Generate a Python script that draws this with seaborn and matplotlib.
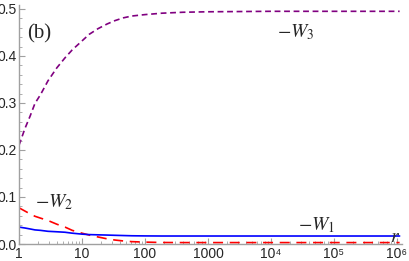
import matplotlib
matplotlib.use("Agg")
import matplotlib.pyplot as plt
from matplotlib.ticker import FixedLocator, LogLocator, NullFormatter, MultipleLocator
import seaborn as sns
import pandas as pd

# values
r_vals = [1, 1.245, 1.5, 1.79, 2.2, 2.88, 4, 5.37, 7, 10, 13, 17.9, 25, 33, 45, 62, 100, 186, 400, 1000, 1e4, 1e5, 1.1e6]
w3_vals = [0.21, 0.246, 0.272, 0.299, 0.318, 0.347, 0.375, 0.396, 0.413, 0.432, 0.446, 0.458, 0.468, 0.475, 0.481, 0.485, 0.488, 0.491, 0.493, 0.494, 0.495, 0.495, 0.495]
w2_vals = [0.077, 0.07, 0.064, 0.059, 0.055, 0.05, 0.042, 0.036, 0.029, 0.023, 0.019, 0.015, 0.011, 0.0085, 0.0065, 0.005, 0.004, 0.0032, 0.003, 0.003, 0.003, 0.003, 0.003]
w1_vals = [0.036, 0.034, 0.032, 0.03, 0.029, 0.027, 0.026, 0.025, 0.023, 0.021, 0.02, 0.0195, 0.019, 0.0185, 0.018, 0.0175, 0.0172, 0.017, 0.017, 0.017, 0.017, 0.017, 0.017]
x_ticks = [1, 10, 100, 1000, 1e4, 1e5, 1e6]
x_tick_labels = ["1", "10", "100", "1000", "10\u2074", "10\u2075", "10\u2076"]
y_ticks = [0.0, 0.1, 0.2, 0.3, 0.4, 0.5]

df = pd.DataFrame({"r": r_vals, "W1": w1_vals, "W2": w2_vals, "W3": w3_vals})

sns.set_style("ticks")
plt.rcParams["font.family"] = ["Liberation Sans", "DejaVu Sans"]
plt.rcParams["mathtext.fontset"] = "stix"

fig = plt.figure(figsize=(4.09, 2.61), dpi=100)
ax = fig.add_axes([19 / 409, 17 / 261, 383 / 409, 238.8 / 261])

sns.lineplot(data=df, x="r", y="W3", ax=ax, color="#800080", lw=1.2)
sns.lineplot(data=df, x="r", y="W2", ax=ax, color="#ff0000", lw=1.2)
sns.lineplot(data=df, x="r", y="W1", ax=ax, color="#0000ff", lw=1.2)
lines = ax.get_lines()
lines[0].set_dashes([3.5, 2.2])
lines[1].set_dashes([6, 4])

ax.set_xscale("log")
ax.set_xlim(1, 1.2e6)
ax.set_ylim(0, 0.508)

ax.xaxis.set_major_locator(FixedLocator(x_ticks))
ax.set_xticklabels(x_tick_labels)
ax.xaxis.set_minor_locator(LogLocator(base=10, subs=range(2, 10), numticks=20))
ax.xaxis.set_minor_formatter(NullFormatter())
ax.yaxis.set_major_locator(FixedLocator(y_ticks))
ax.set_yticklabels([f"{v:.1f}" for v in y_ticks])
ax.yaxis.set_minor_locator(MultipleLocator(0.02))

ax.set_xlabel("")
ax.set_ylabel("")
sns.despine(ax=ax)
for s in ("left", "bottom"):
    ax.spines[s].set_color("#a0a0a0")
    ax.spines[s].set_linewidth(1.0)
ax.tick_params(which="major", direction="in", length=4, width=0.8, color="#a0a0a0",
               labelsize=10, pad=1.5)
ax.tick_params(axis="x", which="major", pad=2.5)
ax.tick_params(which="minor", direction="in", length=2, width=0.6, color="#a0a0a0")

serif = ["Liberation Serif", "DejaVu Serif"]
ax.text(0.021, 0.86, "(b)", transform=ax.transAxes, fontsize=15, family=serif,
        va="baseline")
ax.text(0.674, 0.867, r"$-W_3$", transform=ax.transAxes, fontsize=14, va="baseline")
ax.text(0.042, 0.155, r"$-W_2$", transform=ax.transAxes, fontsize=14, va="baseline")
ax.text(0.728, 0.059, r"$-W_1$", transform=ax.transAxes, fontsize=14, va="baseline")
ax.text(0.969, 0.008, r"$r$", transform=ax.transAxes, fontsize=14, va="baseline")

fig.savefig("out.png", dpi=100)
